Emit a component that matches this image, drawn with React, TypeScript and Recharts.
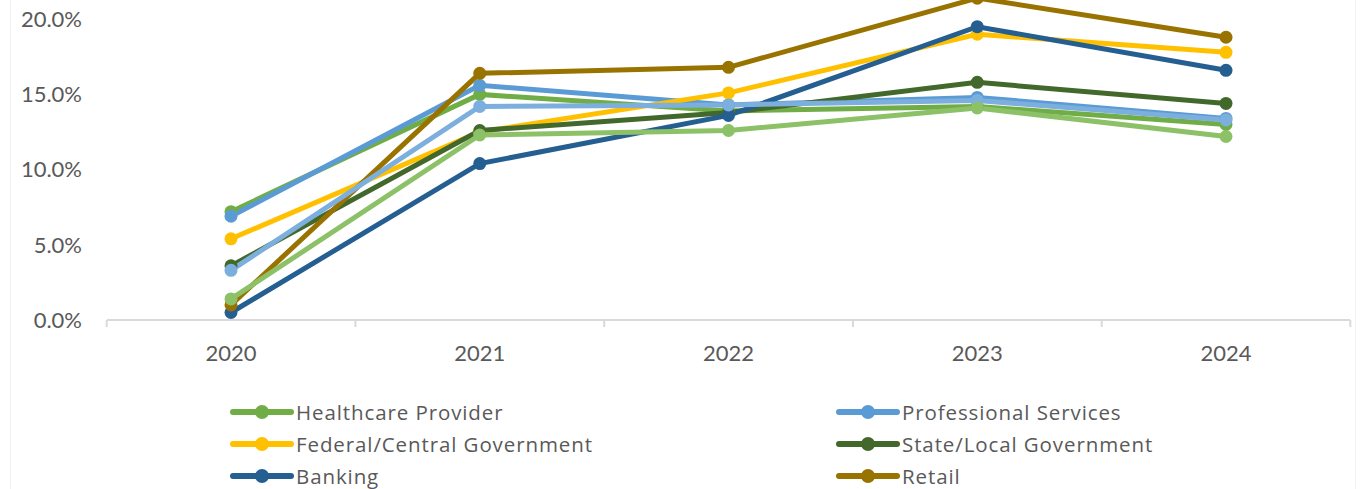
import React from 'react';
import { LineChart, Line, XAxis, YAxis, Legend } from 'recharts';

const years = ['2020', '2021', '2022', '2023', '2024'];

const healthcareProvider = [0.072, 0.150, 0.139, 0.142, 0.130];
const professionalServices = [0.069, 0.156, 0.143, 0.148, 0.134];
const federalGovernment = [0.054, 0.125, 0.151, 0.190, 0.178];
const stateLocalGovernment = [0.036, 0.126, 0.138, 0.158, 0.144];
const banking = [0.005, 0.104, 0.136, 0.195, 0.166];
const retail = [0.010, 0.164, 0.168, 0.214, 0.188];
const education = [0.033, 0.142, 0.143, 0.146, 0.133];
const technology = [0.014, 0.123, 0.126, 0.141, 0.122];

// the chart is cropped at the top, so the axis runs to 25% but only labels up to 20% show
const yTicks = [0, 0.05, 0.1, 0.15, 0.2];

const series = [
  { key: 'Healthcare Provider', values: healthcareProvider, color: '#70AD47' },
  { key: 'Professional Services', values: professionalServices, color: '#5B9BD5' },
  { key: 'Federal/Central Government', values: federalGovernment, color: '#FFC000' },
  { key: 'State/Local Government', values: stateLocalGovernment, color: '#43682B' },
  { key: 'Banking', values: banking, color: '#255E91' },
  { key: 'Retail', values: retail, color: '#997300' },
  { key: 'Education', values: education, color: '#7CAFDD' },
  { key: 'Technology', values: technology, color: '#8CC168' },
];

const data = years.map((year, i) => {
  const row: { [key: string]: string | number } = { year };
  series.forEach((s) => {
    row[s.key] = s.values[i];
  });
  return row;
});

const FONT = 'Lato, "Noto Sans", sans-serif';
const LEGEND_FONT = '"Open Sans", "Noto Sans", sans-serif';
const TEXT = '#595959';
const AXIS = '#D9D9D9';
const HALF_BAND = 124.3;

// label in the middle of the category, tick marks on the category edges (Excel style)
function YearTick(props: any) {
  const { x, y, payload, index } = props;
  const axisY = y - 7;
  return (
    <g>
      <line x1={x - HALF_BAND} y1={axisY} x2={x - HALF_BAND} y2={axisY + 7} stroke={AXIS} strokeWidth={2} />
      {index === years.length - 1 && (
        <line x1={x + HALF_BAND} y1={axisY} x2={x + HALF_BAND} y2={axisY + 7} stroke={AXIS} strokeWidth={2} />
      )}
      <text x={x} y={y + 25} textAnchor="middle" dominantBaseline="central" fill={TEXT} fontSize={22} fontFamily={FONT}>
        {payload.value}
      </text>
    </g>
  );
}

function LegendContent() {
  return (
    <div style={{ position: 'relative', width: 1363, height: 128 }}>
      {series.map((s, i) => {
        const left = i % 2 === 0 ? 230 : 836;
        const top = Math.floor(i / 2) * 32;
        return (
          <div key={s.key} style={{ position: 'absolute', left, top, height: 32, display: 'flex', alignItems: 'center' }}>
            <svg width={64} height={32}>
              <line x1={3} y1={16} x2={61} y2={16} stroke={s.color} strokeWidth={6} strokeLinecap="round" />
              <circle cx={32} cy={16} r={7} fill={s.color} />
            </svg>
            <span
              style={{
                fontFamily: LEGEND_FONT,
                fontSize: 20.5,
                letterSpacing: 0.9,
                color: TEXT,
                marginLeft: 2,
                whiteSpace: 'nowrap',
              }}
            >
              {s.key}
            </span>
          </div>
        );
      })}
    </div>
  );
}

export default function App() {
  return (
    <div style={{ position: 'absolute', left: 0, top: 0, width: 1363, height: 489, overflow: 'hidden', background: '#fff' }}>
      <div style={{ position: 'absolute', left: 10, top: 0, width: 1, height: 489, background: '#F2F2F2' }} />
      <div style={{ position: 'absolute', left: 1355, top: 0, width: 1, height: 489, background: '#F2F2F2' }} />
      <div style={{ position: 'absolute', left: 0, top: -70 }}>
        <LineChart width={1363} height={560} data={data} margin={{ top: 14, right: 13, bottom: 110, left: 0 }}>
          <XAxis
            dataKey="year"
            padding={{ left: 124, right: 124 }}
            height={60}
            tickLine={false}
            tickSize={7}
            tickMargin={0}
            axisLine={{ stroke: AXIS, strokeWidth: 2 }}
            tick={<YearTick />}
            interval={0}
          />
          <YAxis
            width={107}
            domain={[0, 0.25]}
            ticks={yTicks}
            axisLine={false}
            tickLine={false}
            tickSize={6}
            tickMargin={19}
            tickFormatter={(v: number) => `${(v * 100).toFixed(1)}%`}
            tick={{ fill: TEXT, fontSize: 22, fontFamily: FONT }}
          />
          <Legend
            layout="horizontal"
            verticalAlign="middle"
            align="center"
            wrapperStyle={{ top: 466, left: 0, width: 1363 }}
            content={<LegendContent />}
          />
          {series.map((s) => (
            <Line
              key={s.key}
              type="linear"
              dataKey={s.key}
              stroke={s.color}
              strokeWidth={5}
              dot={{ r: 6.5, fill: s.color, stroke: s.color, strokeWidth: 0 }}
              activeDot={false}
              isAnimationActive={false}
            />
          ))}
        </LineChart>
      </div>
    </div>
  );
}
